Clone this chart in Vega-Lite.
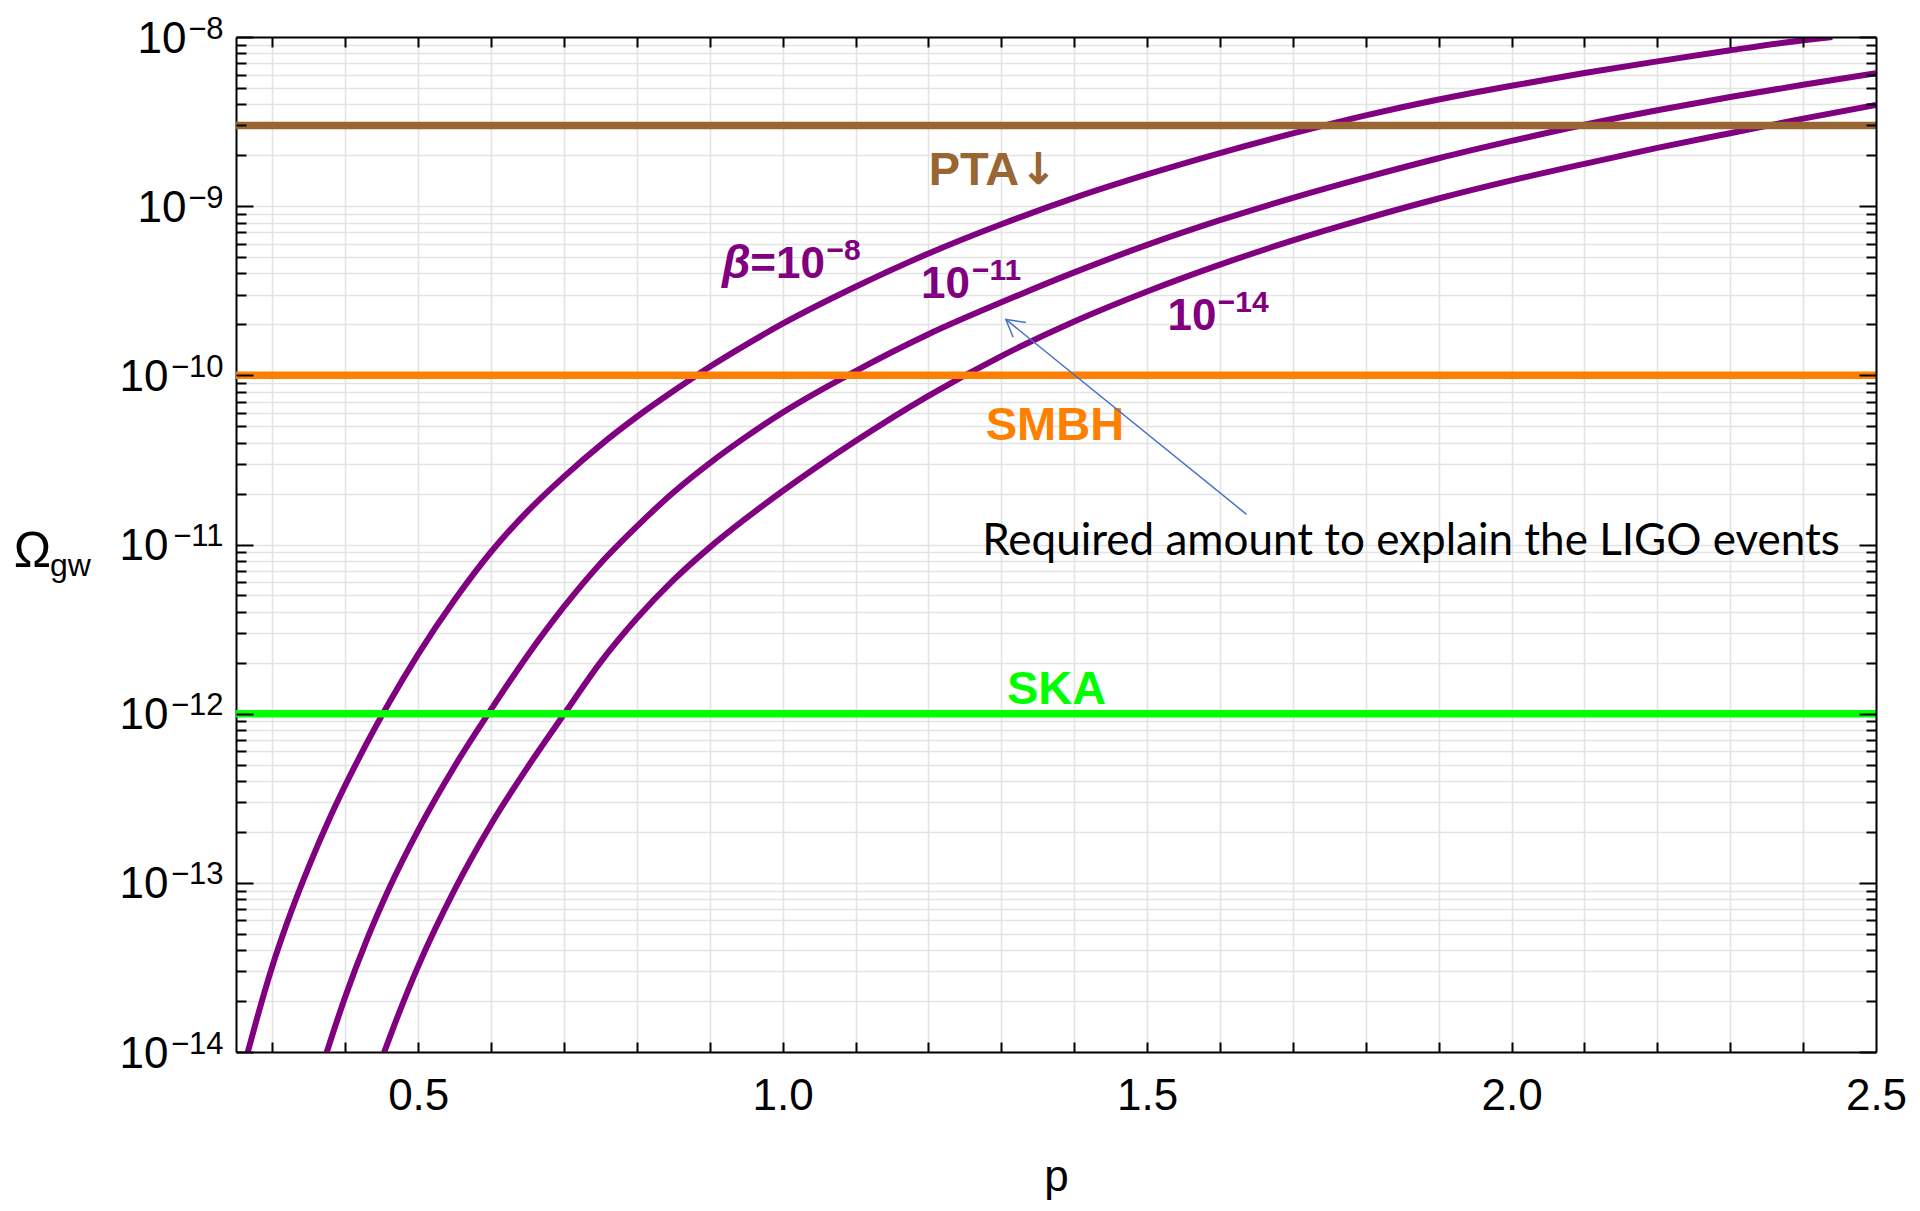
{
  "$schema": "https://vega.github.io/schema/vega-lite/v6.json",
  "width": 1640,
  "height": 1015,
  "autosize": {"type": "none"},
  "padding": {"left": 236, "top": 37, "right": 44, "bottom": 159},
  "background": "white",
  "config": {
    "view": {"stroke": null},
    "axis": {
      "labelFont": "Liberation Sans",
      "titleFont": "Liberation Sans",
      "labelColor": "black",
      "titleColor": "black",
      "tickColor": "black",
      "domainColor": "black",
      "domainWidth": 2,
      "tickWidth": 2,
      "titleFontWeight": "normal"
    }
  },
  "datasets": {
    "curves": [
      {"series": "β=10⁻⁸", "p": 0.266, "omega": 9.93e-15},
      {"series": "β=10⁻⁸", "p": 0.28, "omega": 1.65e-14},
      {"series": "β=10⁻⁸", "p": 0.30, "omega": 3.23e-14},
      {"series": "β=10⁻⁸", "p": 0.32, "omega": 5.78e-14},
      {"series": "β=10⁻⁸", "p": 0.35, "omega": 1.25e-13},
      {"series": "β=10⁻⁸", "p": 0.38, "omega": 2.49e-13},
      {"series": "β=10⁻⁸", "p": 0.42, "omega": 5.6e-13},
      {"series": "β=10⁻⁸", "p": 0.46, "omega": 1.16e-12},
      {"series": "β=10⁻⁸", "p": 0.50, "omega": 2.25e-12},
      {"series": "β=10⁻⁸", "p": 0.55, "omega": 4.71e-12},
      {"series": "β=10⁻⁸", "p": 0.60, "omega": 9.06e-12},
      {"series": "β=10⁻⁸", "p": 0.65, "omega": 1.57e-11},
      {"series": "β=10⁻⁸", "p": 0.70, "omega": 2.52e-11},
      {"series": "β=10⁻⁸", "p": 0.75, "omega": 3.87e-11},
      {"series": "β=10⁻⁸", "p": 0.80, "omega": 5.69e-11},
      {"series": "β=10⁻⁸", "p": 0.85, "omega": 8.07e-11},
      {"series": "β=10⁻⁸", "p": 0.90, "omega": 1.125e-10},
      {"series": "β=10⁻⁸", "p": 0.95, "omega": 1.52e-10},
      {"series": "β=10⁻⁸", "p": 1.0, "omega": 2.02e-10},
      {"series": "β=10⁻⁸", "p": 1.1, "omega": 3.34e-10},
      {"series": "β=10⁻⁸", "p": 1.2, "omega": 5.25e-10},
      {"series": "β=10⁻⁸", "p": 1.3, "omega": 7.82e-10},
      {"series": "β=10⁻⁸", "p": 1.4, "omega": 1.12e-9},
      {"series": "β=10⁻⁸", "p": 1.5, "omega": 1.54e-9},
      {"series": "β=10⁻⁸", "p": 1.6, "omega": 2.06e-9},
      {"series": "β=10⁻⁸", "p": 1.7, "omega": 2.69e-9},
      {"series": "β=10⁻⁸", "p": 1.8, "omega": 3.44e-9},
      {"series": "β=10⁻⁸", "p": 1.9, "omega": 4.27e-9},
      {"series": "β=10⁻⁸", "p": 2.0, "omega": 5.15e-9},
      {"series": "β=10⁻⁸", "p": 2.1, "omega": 6.12e-9},
      {"series": "β=10⁻⁸", "p": 2.2, "omega": 7.18e-9},
      {"series": "β=10⁻⁸", "p": 2.3, "omega": 8.34e-9},
      {"series": "β=10⁻⁸", "p": 2.4, "omega": 9.57e-9},
      {"series": "β=10⁻⁸", "p": 2.44, "omega": 1e-8},

      {"series": "β=10⁻¹¹", "p": 0.37, "omega": 8.69e-15},
      {"series": "β=10⁻¹¹", "p": 0.40, "omega": 2.13e-14},
      {"series": "β=10⁻¹¹", "p": 0.43, "omega": 4.66e-14},
      {"series": "β=10⁻¹¹", "p": 0.46, "omega": 9.25e-14},
      {"series": "β=10⁻¹¹", "p": 0.50, "omega": 2.05e-13},
      {"series": "β=10⁻¹¹", "p": 0.55, "omega": 4.89e-13},
      {"series": "β=10⁻¹¹", "p": 0.60, "omega": 1.06e-12},
      {"series": "β=10⁻¹¹", "p": 0.65, "omega": 2.21e-12},
      {"series": "β=10⁻¹¹", "p": 0.70, "omega": 4.29e-12},
      {"series": "β=10⁻¹¹", "p": 0.75, "omega": 7.73e-12},
      {"series": "β=10⁻¹¹", "p": 0.80, "omega": 1.28e-11},
      {"series": "β=10⁻¹¹", "p": 0.85, "omega": 2.03e-11},
      {"series": "β=10⁻¹¹", "p": 0.90, "omega": 3.03e-11},
      {"series": "β=10⁻¹¹", "p": 0.95, "omega": 4.34e-11},
      {"series": "β=10⁻¹¹", "p": 1.0, "omega": 6.03e-11},
      {"series": "β=10⁻¹¹", "p": 1.1, "omega": 1.06e-10},
      {"series": "β=10⁻¹¹", "p": 1.2, "omega": 1.75e-10},
      {"series": "β=10⁻¹¹", "p": 1.3, "omega": 2.7e-10},
      {"series": "β=10⁻¹¹", "p": 1.4, "omega": 4.06e-10},
      {"series": "β=10⁻¹¹", "p": 1.5, "omega": 5.9e-10},
      {"series": "β=10⁻¹¹", "p": 1.6, "omega": 8.26e-10},
      {"series": "β=10⁻¹¹", "p": 1.7, "omega": 1.12e-9},
      {"series": "β=10⁻¹¹", "p": 1.8, "omega": 1.48e-9},
      {"series": "β=10⁻¹¹", "p": 1.9, "omega": 1.92e-9},
      {"series": "β=10⁻¹¹", "p": 2.0, "omega": 2.43e-9},
      {"series": "β=10⁻¹¹", "p": 2.1, "omega": 3.03e-9},
      {"series": "β=10⁻¹¹", "p": 2.2, "omega": 3.69e-9},
      {"series": "β=10⁻¹¹", "p": 2.3, "omega": 4.42e-9},
      {"series": "β=10⁻¹¹", "p": 2.4, "omega": 5.22e-9},
      {"series": "β=10⁻¹¹", "p": 2.5, "omega": 6.1e-9},

      {"series": "β=10⁻¹⁴", "p": 0.445, "omega": 7.96e-15},
      {"series": "β=10⁻¹⁴", "p": 0.47, "omega": 1.55e-14},
      {"series": "β=10⁻¹⁴", "p": 0.50, "omega": 3.22e-14},
      {"series": "β=10⁻¹⁴", "p": 0.55, "omega": 9.12e-14},
      {"series": "β=10⁻¹⁴", "p": 0.60, "omega": 2.22e-13},
      {"series": "β=10⁻¹⁴", "p": 0.65, "omega": 4.82e-13},
      {"series": "β=10⁻¹⁴", "p": 0.70, "omega": 9.91e-13},
      {"series": "β=10⁻¹⁴", "p": 0.75, "omega": 2.01e-12},
      {"series": "β=10⁻¹⁴", "p": 0.80, "omega": 3.66e-12},
      {"series": "β=10⁻¹⁴", "p": 0.85, "omega": 6.15e-12},
      {"series": "β=10⁻¹⁴", "p": 0.90, "omega": 9.62e-12},
      {"series": "β=10⁻¹⁴", "p": 0.95, "omega": 1.43e-11},
      {"series": "β=10⁻¹⁴", "p": 1.0, "omega": 2.07e-11},
      {"series": "β=10⁻¹⁴", "p": 1.1, "omega": 4.09e-11},
      {"series": "β=10⁻¹⁴", "p": 1.2, "omega": 7.57e-11},
      {"series": "β=10⁻¹⁴", "p": 1.3, "omega": 1.3e-10},
      {"series": "β=10⁻¹⁴", "p": 1.4, "omega": 2.08e-10},
      {"series": "β=10⁻¹⁴", "p": 1.5, "omega": 3.13e-10},
      {"series": "β=10⁻¹⁴", "p": 1.6, "omega": 4.51e-10},
      {"series": "β=10⁻¹⁴", "p": 1.7, "omega": 6.28e-10},
      {"series": "β=10⁻¹⁴", "p": 1.8, "omega": 8.45e-10},
      {"series": "β=10⁻¹⁴", "p": 1.9, "omega": 1.11e-9},
      {"series": "β=10⁻¹⁴", "p": 2.0, "omega": 1.42e-9},
      {"series": "β=10⁻¹⁴", "p": 2.1, "omega": 1.78e-9},
      {"series": "β=10⁻¹⁴", "p": 2.2, "omega": 2.21e-9},
      {"series": "β=10⁻¹⁴", "p": 2.3, "omega": 2.7e-9},
      {"series": "β=10⁻¹⁴", "p": 2.4, "omega": 3.29e-9},
      {"series": "β=10⁻¹⁴", "p": 2.5, "omega": 3.96e-9}
    ],
    "bounds": [
      {"series": "PTA", "omega": 3e-9},
      {"series": "SMBH", "omega": 1e-10},
      {"series": "SKA", "omega": 1e-12}
    ],
    "labels": [
      {"text": "PTA", "series": "PTA", "p": 1.2624, "omega": 1.61e-9},
      {"text": "SMBH", "series": "SMBH", "p": 1.3735, "omega": 5.02e-11},
      {"text": "SKA", "series": "SKA", "p": 1.3758, "omega": 1.38e-12}
    ],
    "ptaArrow": [
      {"text": "↓", "p": 1.3255, "omega": 1.61e-9}
    ],
    "tagBeta": [
      {"text": "β", "p": 0.956, "omega": 3.75e-10}
    ],
    "tagBase": [
      {"text": "=10", "p": 1.058, "omega": 3.75e-10},
      {"text": "10", "p": 1.2569, "omega": 2.85e-10},
      {"text": "10", "p": 1.5953, "omega": 1.846e-10}
    ],
    "tagExp": [
      {"text": "−8", "p": 1.060, "omega": 4.81e-10},
      {"text": "−11", "p": 1.2597, "omega": 3.66e-10},
      {"text": "−14", "p": 1.597, "omega": 2.367e-10}
    ],
    "note": [
      {"text": "Required amount to explain the LIGO events", "p": 1.862, "omega": 8.67e-12}
    ],
    "pointer": [
      {"seg": "shaft", "k": 0, "p": 1.6364, "omega": 1.508e-11},
      {"seg": "shaft", "k": 1, "p": 1.3062, "omega": 2.14e-10},
      {"seg": "head", "k": 0, "p": 1.3337, "omega": 2.05e-10},
      {"seg": "head", "k": 1, "p": 1.3062, "omega": 2.14e-10},
      {"seg": "head", "k": 2, "p": 1.3162, "omega": 1.68e-10}
    ]
  },
  "layer": [
    {
      "data": {"name": "curves"},
      "mark": {"type": "line", "interpolate": "monotone", "strokeWidth": 6, "color": "#800080", "clip": true},
      "encoding": {
        "x": {
          "field": "p", "type": "quantitative",
          "scale": {"domain": [0.25, 2.5], "nice": false, "zero": false},
          "axis": {
            "orient": "bottom",
            "values": [0.3, 0.4, 0.5, 0.6, 0.7, 0.8, 0.9, 1.0, 1.1, 1.2, 1.3, 1.4, 1.5, 1.6, 1.7, 1.8, 1.9, 2.0, 2.1, 2.2, 2.3, 2.4, 2.5],
            "labelExpr": "abs(datum.value * 2 - round(datum.value * 2)) < 0.001 ? format(datum.value, '.1f') : ''",
            "ticks": false, "tickSize": 0,
            "grid": true, "gridColor": "#e3e3e3", "gridWidth": 1.6,
            "domain": true,
            "labelFontSize": 44, "labelPadding": 22,
            "labelFlush": false, "labelOverlap": false, "labelBound": false,
            "title": "p", "titleFontSize": 44, "titleBaseline": "alphabetic", "titleY": 138
          }
        },
        "y": {
          "field": "omega", "type": "quantitative",
          "scale": {"type": "log", "domain": [1e-14, 1e-8], "nice": false},
          "axis": {
            "orient": "left",
            "values": [1e-14, 2e-14, 3e-14, 4e-14, 5e-14, 6e-14, 7e-14, 8e-14, 9e-14,
                       1e-13, 2e-13, 3e-13, 4e-13, 5e-13, 6e-13, 7e-13, 8e-13, 9e-13,
                       1e-12, 2e-12, 3e-12, 4e-12, 5e-12, 6e-12, 7e-12, 8e-12, 9e-12,
                       1e-11, 2e-11, 3e-11, 4e-11, 5e-11, 6e-11, 7e-11, 8e-11, 9e-11,
                       1e-10, 2e-10, 3e-10, 4e-10, 5e-10, 6e-10, 7e-10, 8e-10, 9e-10,
                       1e-9, 2e-9, 3e-9, 4e-9, 5e-9, 6e-9, 7e-9, 8e-9, 9e-9, 1e-8],
            "labelExpr": "abs(log(datum.value) / LN10 - round(log(datum.value) / LN10)) < 0.001 ? '10' : ''",
            "ticks": false, "tickSize": 0,
            "grid": true, "gridColor": "#e3e3e3", "gridWidth": 1.6,
            "domain": true,
            "labelFontSize": 44, "labelOffset": 2,
            "labelPadding": {"condition": {"test": "datum.value > 5e-10", "value": 50}, "value": 68},
            "labelOverlap": false, "labelBound": false, "labelFlush": false,
            "title": "Ω", "titleFontSize": 50, "titleAngle": 0, "titleAlign": "center",
            "titleBaseline": "alphabetic", "titleX": -204, "titleY": 529
          }
        },
        "detail": {"field": "series"}
      }
    },
    {
      "data": {"name": "bounds"},
      "mark": {"type": "rule", "strokeWidth": 7.5},
      "encoding": {
        "y": {
          "field": "omega", "type": "quantitative",
          "scale": {"type": "log", "domain": [1e-14, 1e-8], "nice": false},
          "axis": {
            "orient": "right",
            "values": [1e-14, 2e-14, 3e-14, 4e-14, 5e-14, 6e-14, 7e-14, 8e-14, 9e-14,
                       1e-13, 2e-13, 3e-13, 4e-13, 5e-13, 6e-13, 7e-13, 8e-13, 9e-13,
                       1e-12, 2e-12, 3e-12, 4e-12, 5e-12, 6e-12, 7e-12, 8e-12, 9e-12,
                       1e-11, 2e-11, 3e-11, 4e-11, 5e-11, 6e-11, 7e-11, 8e-11, 9e-11,
                       1e-10, 2e-10, 3e-10, 4e-10, 5e-10, 6e-10, 7e-10, 8e-10, 9e-10,
                       1e-9, 2e-9, 3e-9, 4e-9, 5e-9, 6e-9, 7e-9, 8e-9, 9e-9, 1e-8],
            "labels": false, "grid": false, "domain": true, "title": null,
            "tickSize": {"condition": {"test": "abs(log(datum.value) / LN10 - round(log(datum.value) / LN10)) < 0.001", "value": -17}, "value": -10},
            "zindex": 1
          }
        },
        "color": {
          "field": "series", "type": "nominal",
          "scale": {"domain": ["PTA", "SMBH", "SKA"], "range": ["#996633", "#FF8000", "#00FF00"]},
          "legend": null
        }
      }
    },
    {
      "data": {"name": "labels"},
      "mark": {"type": "text", "font": "Liberation Sans", "fontWeight": "bold", "fontSize": 47, "align": "center", "baseline": "middle"},
      "encoding": {
        "x": {
          "field": "p", "type": "quantitative",
          "scale": {"domain": [0.25, 2.5], "nice": false, "zero": false},
          "axis": {
            "orient": "top",
            "values": [0.3, 0.4, 0.5, 0.6, 0.7, 0.8, 0.9, 1.0, 1.1, 1.2, 1.3, 1.4, 1.5, 1.6, 1.7, 1.8, 1.9, 2.0, 2.1, 2.2, 2.3, 2.4],
            "labels": false, "grid": false, "domain": true, "title": null,
            "tickSize": -10, "zindex": 1
          }
        },
        "y": {
          "field": "omega", "type": "quantitative",
          "scale": {"type": "log", "domain": [1e-14, 1e-8], "nice": false},
          "axis": {
            "orient": "left",
            "values": [1e-14, 1e-13, 1e-12, 1e-11, 1e-10, 1e-9, 1e-8],
            "labelExpr": "['−14', '−13', '−12', '−11', '−10', '−9', '−8'][round(log(datum.value) / LN10) + 14]",
            "ticks": false, "tickSize": 0, "grid": false, "domain": false,
            "labelFontSize": 31, "labelPadding": 13, "labelOffset": -8,
            "labelOverlap": false, "labelBound": false, "labelFlush": false,
            "title": "gw", "titleFontSize": 32, "titleAngle": 0, "titleAlign": "center",
            "titleBaseline": "alphabetic", "titleX": -166, "titleY": 538
          }
        },
        "text": {"field": "text"},
        "color": {
          "field": "series", "type": "nominal",
          "scale": {"domain": ["PTA", "SMBH", "SKA"], "range": ["#996633", "#FF8000", "#00FF00"]},
          "legend": null
        }
      }
    },
    {
      "data": {"name": "note"},
      "mark": {"type": "text", "font": "Lato", "fontSize": 44, "align": "center", "baseline": "alphabetic", "color": "black"},
      "encoding": {
        "x": {
          "field": "p", "type": "quantitative",
          "scale": {"domain": [0.25, 2.5], "nice": false, "zero": false},
          "axis": {
            "orient": "bottom",
            "values": [0.3, 0.4, 0.5, 0.6, 0.7, 0.8, 0.9, 1.0, 1.1, 1.2, 1.3, 1.4, 1.5, 1.6, 1.7, 1.8, 1.9, 2.0, 2.1, 2.2, 2.3, 2.4],
            "labels": false, "grid": false, "domain": false, "title": null,
            "tickSize": -10, "zindex": 1
          }
        },
        "y": {
          "field": "omega", "type": "quantitative",
          "scale": {"type": "log", "domain": [1e-14, 1e-8], "nice": false},
          "axis": {
            "orient": "left",
            "values": [1e-14, 2e-14, 3e-14, 4e-14, 5e-14, 6e-14, 7e-14, 8e-14, 9e-14,
                       1e-13, 2e-13, 3e-13, 4e-13, 5e-13, 6e-13, 7e-13, 8e-13, 9e-13,
                       1e-12, 2e-12, 3e-12, 4e-12, 5e-12, 6e-12, 7e-12, 8e-12, 9e-12,
                       1e-11, 2e-11, 3e-11, 4e-11, 5e-11, 6e-11, 7e-11, 8e-11, 9e-11,
                       1e-10, 2e-10, 3e-10, 4e-10, 5e-10, 6e-10, 7e-10, 8e-10, 9e-10,
                       1e-9, 2e-9, 3e-9, 4e-9, 5e-9, 6e-9, 7e-9, 8e-9, 9e-9, 1e-8],
            "labels": false, "grid": false, "domain": false, "title": null,
            "tickSize": {"condition": {"test": "abs(log(datum.value) / LN10 - round(log(datum.value) / LN10)) < 0.001", "value": -17}, "value": -10},
            "zindex": 1
          }
        },
        "text": {"field": "text"}
      }
    },
    {
      "data": {"name": "pointer"},
      "mark": {"type": "line", "color": "#4472C4", "strokeWidth": 1.5},
      "encoding": {
        "x": {"field": "p", "type": "quantitative", "scale": {"domain": [0.25, 2.5], "nice": false, "zero": false}, "axis": null},
        "y": {"field": "omega", "type": "quantitative", "scale": {"type": "log", "domain": [1e-14, 1e-8], "nice": false}, "axis": null},
        "detail": {"field": "seg"},
        "order": {"field": "k", "type": "quantitative"}
      }
    },
    {
      "data": {"name": "ptaArrow"},
      "mark": {"type": "text", "font": "DejaVu Sans", "fontWeight": "bold", "fontSize": 44, "align": "left", "baseline": "middle", "color": "#996633"},
      "encoding": {
        "x": {"field": "p", "type": "quantitative", "scale": {"domain": [0.25, 2.5], "nice": false, "zero": false}, "axis": null},
        "y": {"field": "omega", "type": "quantitative", "scale": {"type": "log", "domain": [1e-14, 1e-8], "nice": false}, "axis": null},
        "text": {"field": "text"}
      }
    },
    {
      "data": {"name": "tagBeta"},
      "mark": {"type": "text", "font": "Liberation Sans", "fontWeight": "bold", "fontStyle": "italic", "fontSize": 46, "align": "right", "baseline": "alphabetic", "color": "#800080"},
      "encoding": {
        "x": {"field": "p", "type": "quantitative", "scale": {"domain": [0.25, 2.5], "nice": false, "zero": false}, "axis": null},
        "y": {"field": "omega", "type": "quantitative", "scale": {"type": "log", "domain": [1e-14, 1e-8], "nice": false}, "axis": null},
        "text": {"field": "text"}
      }
    },
    {
      "data": {"name": "tagBase"},
      "mark": {"type": "text", "font": "Liberation Sans", "fontWeight": "bold", "fontSize": 44, "align": "right", "baseline": "alphabetic", "color": "#800080"},
      "encoding": {
        "x": {"field": "p", "type": "quantitative", "scale": {"domain": [0.25, 2.5], "nice": false, "zero": false}, "axis": null},
        "y": {"field": "omega", "type": "quantitative", "scale": {"type": "log", "domain": [1e-14, 1e-8], "nice": false}, "axis": null},
        "text": {"field": "text"}
      }
    },
    {
      "data": {"name": "tagExp"},
      "mark": {"type": "text", "font": "Liberation Sans", "fontWeight": "bold", "fontSize": 30, "align": "left", "baseline": "alphabetic", "color": "#800080"},
      "encoding": {
        "x": {"field": "p", "type": "quantitative", "scale": {"domain": [0.25, 2.5], "nice": false, "zero": false}, "axis": null},
        "y": {"field": "omega", "type": "quantitative", "scale": {"type": "log", "domain": [1e-14, 1e-8], "nice": false}, "axis": null},
        "text": {"field": "text"}
      }
    }
  ],
  "resolve": {"axis": {"x": "independent", "y": "independent"}}
}
